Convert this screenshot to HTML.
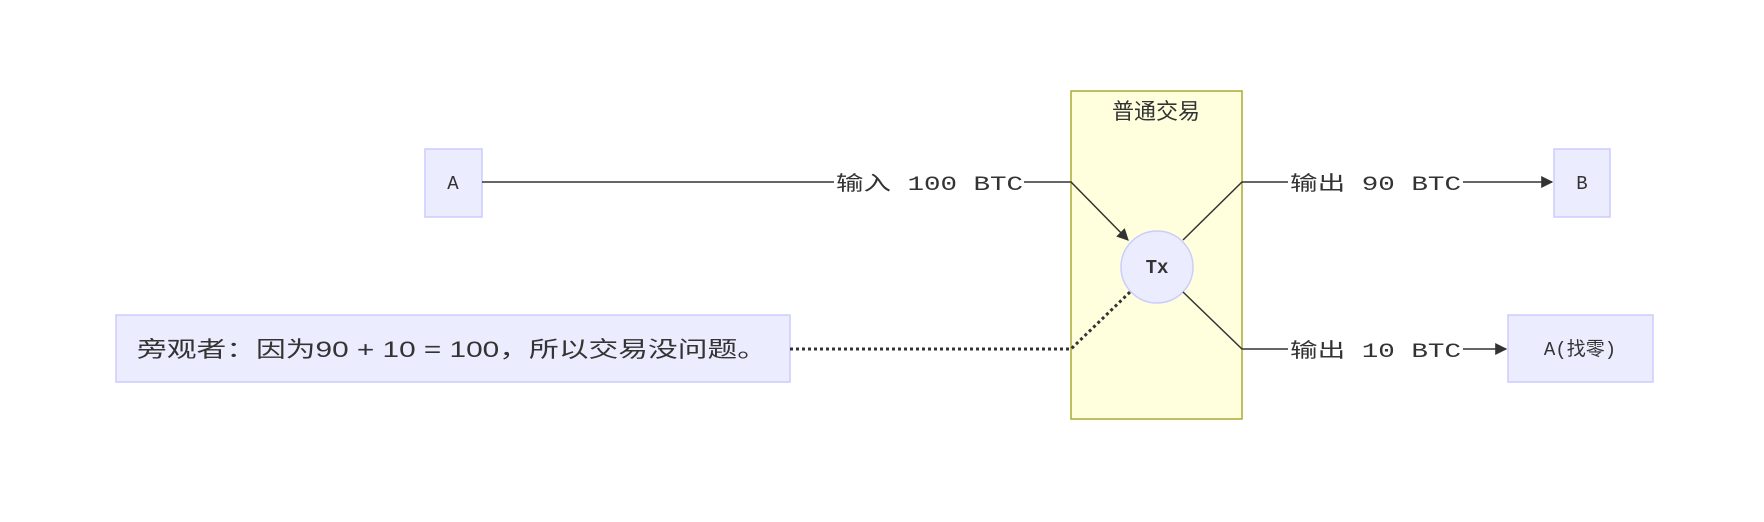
<!DOCTYPE html>
<html><head><meta charset="utf-8"><style>
html,body{margin:0;padding:0;background:#fff;}
svg{display:block;}
text{font-family:"Liberation Mono","Noto Sans CJK SC",monospace;fill:#333;}
.cjk{font-family:"Liberation Sans","Noto Sans CJK SC",sans-serif;}
</style></head><body>
<svg width="1764" height="522" viewBox="0 0 1764 522" xmlns="http://www.w3.org/2000/svg">
<defs><marker id="ar" viewBox="0 0 10 10" refX="9" refY="5" markerWidth="8" markerHeight="8" orient="auto"><path d="M0,0L10,5L0,10z" fill="#333"/></marker></defs>
<rect x="1071" y="91" width="171" height="328" fill="#ffffde" stroke="#aaaa33" stroke-width="1.5"/>
<text class="cjk" x="1156" y="119" font-size="22" text-anchor="middle">普通交易</text>
<rect x="425" y="149" width="57" height="68" fill="#ececff" stroke="#ccccff" stroke-width="1.5"/>
<text x="453" y="189" font-size="19" text-anchor="middle">A</text>
<rect x="1554" y="149" width="56" height="68" fill="#ececff" stroke="#ccccff" stroke-width="1.5"/>
<text x="1582" y="189" font-size="19" text-anchor="middle">B</text>
<rect x="1508" y="315" width="145" height="67" fill="#ececff" stroke="#ccccff" stroke-width="1.5"/>
<text x="1580" y="355" font-size="19" text-anchor="middle">A(找零)</text>
<rect x="116" y="315" width="674" height="67" fill="#ececff" stroke="#ccccff" stroke-width="1.5"/>
<text x="137" y="357" font-size="22" textLength="630" lengthAdjust="spacingAndGlyphs" class="cjk">旁观者：因为90 + 10 = 100，所以交易没问题。</text>
<circle cx="1157" cy="267" r="36" fill="#ececff" stroke="#ccccff" stroke-width="1.5"/>
<text x="1157" y="273" font-size="19" text-anchor="middle" font-weight="bold">Tx</text>
<path d="M482,182H1071L1128,240" fill="none" stroke="#333" stroke-width="1.5" marker-end="url(#ar)"/>
<rect x="834" y="170" width="190" height="26" fill="#fff"/>
<text x="836" y="190" font-size="20" textLength="187" lengthAdjust="spacingAndGlyphs">输入 100 BTC</text>
<path d="M1183,240L1242,182H1552" fill="none" stroke="#333" stroke-width="1.5" marker-end="url(#ar)"/>
<rect x="1288" y="170" width="175" height="26" fill="#fff"/>
<text x="1290" y="190" font-size="20" textLength="171" lengthAdjust="spacingAndGlyphs">输出 90 BTC</text>
<path d="M1183,292L1242,349H1506" fill="none" stroke="#333" stroke-width="1.5" marker-end="url(#ar)"/>
<rect x="1288" y="337" width="175" height="26" fill="#fff"/>
<text x="1290" y="357" font-size="20" textLength="171" lengthAdjust="spacingAndGlyphs">输出 10 BTC</text>
<path d="M790,349H1071L1130,292" fill="none" stroke="#333" stroke-width="3" stroke-dasharray="3,3"/>
</svg>
</body></html>
